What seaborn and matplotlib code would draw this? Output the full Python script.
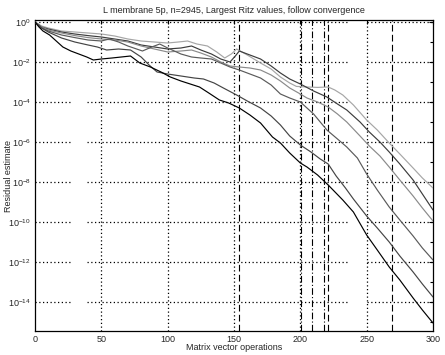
import numpy as np
import pandas as pd
import seaborn as sns
import matplotlib
matplotlib.use("Agg")
import matplotlib.pyplot as plt
from matplotlib.ticker import FixedLocator, LogFormatterSciNotation, NullFormatter

# ---- data: (matrix vector ops, log10 residual) ----
a_x = [0, 5, 10, 20, 30, 40, 50, 60, 70, 80, 90, 100, 108, 115, 122, 130, 137, 143, 148, 152, 160, 170, 178, 185,
       192, 197, 205, 213, 221, 226, 232, 240, 250, 258, 267, 275, 285, 292, 300]
a_e = [0, -0.2, -0.3, -0.45, -0.5, -0.55, -0.6, -0.7, -0.85, -0.95, -1.0, -1.05, -1.0, -0.95, -1.1, -1.2, -1.5, -1.8,
       -1.6, -1.35, -1.65, -2.05, -2.35, -2.75, -3.05, -3.22, -3.25, -3.27, -3.25, -3.4, -3.65, -4.15, -4.9, -5.4,
       -6.05, -6.6, -7.3, -7.8, -8.3]

b_x = [0, 5, 10, 20, 30, 40, 50, 60, 70, 80, 90, 100, 110, 118, 125, 133, 140, 147, 151, 154, 160, 170, 178, 185,
       192, 200, 210, 220, 228, 235, 245, 252, 260, 267, 275, 285, 292, 300]
b_e = [0, -0.25, -0.35, -0.5, -0.6, -0.68, -0.75, -0.85, -0.95, -1.15, -1.25, -1.35, -1.3, -1.2, -1.4, -1.6, -1.85,
       -2.0, -1.7, -1.45, -1.6, -1.85, -2.2, -2.55, -2.85, -3.1, -3.45, -3.75, -4.1, -4.4, -5.0, -5.5, -6.0, -6.5,
       -7.1, -7.9, -8.6, -9.4]

c_x = [0, 5, 10, 20, 30, 40, 50, 60, 70, 80, 90, 100, 110, 118, 125, 133, 140, 147, 154, 162, 170, 178, 185, 192,
       200, 205, 213, 221, 228, 235, 245, 252, 260, 267, 275, 285, 292, 300]
c_e = [0, -0.25, -0.4, -0.55, -0.68, -0.78, -0.85, -0.9, -1.0, -1.2, -1.35, -1.5, -1.45, -1.4, -1.55, -1.75, -2.0,
       -2.2, -2.25, -2.3, -2.4, -2.65, -2.95, -3.3, -3.6, -3.8, -4.0, -4.25, -4.6, -5.0, -5.7, -6.2, -6.7, -7.25,
       -7.9, -8.7, -9.3, -9.95]

d_x = [0, 5, 10, 20, 30, 40, 50, 56, 63, 70, 81, 88, 94, 100, 110, 118, 125, 133, 140, 147, 154, 162, 170, 178,
       185, 192, 200, 210, 220, 228, 235, 243, 250, 258, 267, 275, 285, 292, 300]
d_e = [0, -0.3, -0.45, -0.65, -0.78, -0.9, -0.95, -0.85, -1.0, -1.2, -1.45, -1.25, -1.1, -1.3, -1.6, -1.75, -1.8,
       -1.85, -2.05, -2.25, -2.4, -2.6, -2.8, -3.15, -3.6, -3.8, -4.0, -4.6, -5.4, -5.85, -6.25, -6.8, -7.6, -8.4,
       -9.25, -9.9, -10.7, -11.3, -11.9]

e_x = [0, 5, 10, 20, 30, 40, 47, 54, 63, 72, 80, 86, 92, 100, 110, 120, 127, 135, 142, 152, 160, 170, 178, 185,
       192, 200, 208, 215, 221, 227, 234, 240, 250, 258, 267, 275, 285, 292, 300]
e_e = [0, -0.3, -0.5, -0.8, -1.0, -1.15, -1.25, -1.4, -1.35, -1.4, -1.75, -2.15, -2.5, -2.6, -2.7, -2.8, -2.85,
       -3.05, -3.3, -3.65, -3.95, -4.3, -4.7, -5.15, -5.7, -6.15, -6.5, -6.85, -7.1, -7.7, -8.3, -8.85, -9.7,
       -10.3, -11.0, -11.7, -12.5, -13.1, -13.75]

f_x = [0, 3, 6, 11, 16, 21, 27, 33, 39, 44, 50, 58, 65, 72, 79, 87, 95, 102, 110, 117, 124, 131, 139, 146, 154,
       162, 170, 179, 185, 192, 200, 205, 213, 221, 232, 240, 250, 258, 267, 275, 285, 292, 300]
f_e = [0, -0.25, -0.45, -0.65, -0.95, -1.25, -1.45, -1.6, -1.75, -1.9, -1.85, -1.8, -1.75, -1.7, -2.05, -2.25,
       -2.5, -2.75, -2.95, -3.1, -3.25, -3.55, -3.9, -4.05, -4.3, -4.65, -5.05, -5.75, -6.05, -6.55, -7.05, -7.25,
       -7.65, -8.15, -8.9, -9.5, -10.65, -11.4, -12.25, -12.9, -13.8, -14.4, -15.05]

curve_names = ["a", "b", "c", "d", "e", "f"]
curve_colors = ["#a6a6a6", "#3c3c3c", "#8a8a8a", "#5a5a5a", "#444444", "#000000"]

# convergence markers
dashed_at = [153.5, 221, 269]
dashdot_at = [200.5, 209, 218]

rows = []
for name, xs, es in zip(curve_names, [a_x, b_x, c_x, d_x, e_x, f_x], [a_e, b_e, c_e, d_e, e_e, f_e]):
    for x, e in zip(xs, es):
        rows.append({"curve": name, "mv": x, "res": 10.0 ** e})
df = pd.DataFrame(rows)

sns.set_style("white")
plt.rcParams["font.family"] = ["Liberation Sans", "DejaVu Sans"]
plt.rcParams["mathtext.fontset"] = "custom"
plt.rcParams["mathtext.rm"] = "Liberation Sans"
plt.rcParams["mathtext.default"] = "regular"

fig = plt.figure(figsize=(4.45, 3.55), dpi=100)
ax = fig.add_axes([35 / 445, 1 - 331 / 355, 398 / 445, 311 / 355])

ymin, ymax = 10 ** -15.45, 10 ** 0.1

# grid (horizontal rows are broken in two places in the original)
dot = (0, (1, 2))
for k in range(0, -15, -2):
    for x0, x1 in [(0, 28), (39, 236), (250, 300)]:
        ax.plot([x0, x1], [10.0 ** k, 10.0 ** k], color="k", lw=0.9, ls=dot, zorder=1)
for xv in [50, 100, 150, 200, 250]:
    ax.plot([xv, xv], [ymin, ymax], color="k", lw=0.9, ls=dot, zorder=1)

sns.lineplot(data=df, x="mv", y="res", hue="curve", palette=dict(zip(curve_names, curve_colors)),
             estimator=None, sort=False, legend=False, lw=0.85, ax=ax, zorder=3)

for xv in dashed_at:
    ax.plot([xv, xv], [ymin, ymax], color="k", lw=0.8, ls=(0, (6, 3)), zorder=2)
for xv in dashdot_at:
    ax.plot([xv, xv], [ymin, ymax], color="k", lw=0.8, ls=(0, (6, 2, 1, 2)), zorder=2)

ax.set_yscale("log")
ax.set_xlim(0, 300)
ax.set_ylim(ymin, ymax)
ax.set_xticks([0, 50, 100, 150, 200, 250, 300])
ax.yaxis.set_major_locator(FixedLocator([10.0 ** k for k in range(0, -15, -2)]))
ax.yaxis.set_major_formatter(LogFormatterSciNotation())
ax.yaxis.set_minor_locator(FixedLocator([10.0 ** k for k in range(-1, -16, -2)]))
ax.yaxis.set_minor_formatter(NullFormatter())

ax.tick_params(which="both", direction="in", top=True, right=True, labelsize=6.5, color="k", width=0.8)
ax.tick_params(which="major", length=3, pad=3)
ax.tick_params(which="minor", length=2)
for s in ax.spines.values():
    s.set_color("k")
    s.set_linewidth(0.9)

ax.set_xlabel("Matrix vector operations", fontsize=6.5)
ax.xaxis.set_label_coords(0.5, -0.04)
ax.set_ylabel("Residual estimate", fontsize=6.5)
ax.yaxis.set_label_coords(-0.056, 0.5)
ax.set_title("L membrane 5p, n=2945, Largest Ritz values, follow convergence", fontsize=6.5, pad=5)

fig.savefig("out.png", dpi=100)
